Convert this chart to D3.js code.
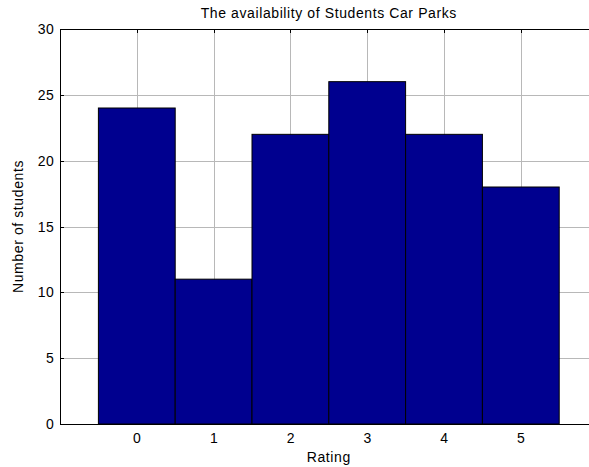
<!DOCTYPE html>
<html>
<head>
<meta charset="utf-8">
<script src="https://cdn.jsdelivr.net/npm/d3@7"></script>
<style>
  body { margin: 0; background: #fff; }
  text { font-family: Arial, "Liberation Sans", sans-serif; fill: #000; font-size: 14px; letter-spacing: 0.6px; }
</style>
</head>
<body>
<div id="chart"></div>
<script>
const ratings = [0, 1, 2, 3, 4, 5];
const counts = [24, 11, 22, 26, 22, 18];
const yTicks = [0, 5, 10, 15, 20, 25, 30];

const width = 589, height = 467;
const plotLeft = 60, plotTop = 29, plotBottom = 424;

const svg = d3.select("#chart").append("svg")
    .attr("width", width)
    .attr("height", height);

const x = d3.scaleLinear().domain([-1, 6]).range([plotLeft, plotLeft + 7 * 76.8]);
const y = d3.scaleLinear().domain([0, 30]).range([plotBottom, plotTop]);

// grid
svg.append("g").selectAll("line")
    .data(ratings)
    .enter().append("line")
    .attr("x1", d => Math.round(x(d)) + 0.5).attr("x2", d => Math.round(x(d)) + 0.5)
    .attr("y1", plotTop).attr("y2", plotBottom)
    .style("stroke", "#b8b8b8").style("stroke-width", 1);

svg.append("g").selectAll("line")
    .data(yTicks.filter(d => d > 0 && d < 30))
    .enter().append("line")
    .attr("x1", plotLeft).attr("x2", width)
    .attr("y1", d => Math.round(y(d)) + 0.5).attr("y2", d => Math.round(y(d)) + 0.5)
    .style("stroke", "#b8b8b8").style("stroke-width", 1);

// bars
svg.append("g").selectAll("rect")
    .data(counts)
    .enter().append("rect")
    .attr("x", (d, i) => x(ratings[i] - 0.5))
    .attr("width", x(0.5) - x(-0.5))
    .attr("y", d => y(d))
    .attr("height", d => plotBottom - y(d))
    .style("fill", "#00008f")
    .style("stroke", "#000")
    .style("stroke-width", 1);

// top tick marks
svg.append("g").selectAll("line")
    .data(ratings)
    .enter().append("line")
    .attr("x1", d => Math.round(x(d)) + 0.5).attr("x2", d => Math.round(x(d)) + 0.5)
    .attr("y1", plotTop).attr("y2", plotTop + 4)
    .style("stroke", "#000");

// y tick marks
svg.append("g").selectAll("line")
    .data(yTicks)
    .enter().append("line")
    .attr("x1", plotLeft).attr("x2", plotLeft + 4)
    .attr("y1", d => Math.round(y(d)) + 0.5).attr("y2", d => Math.round(y(d)) + 0.5)
    .style("stroke", "#000");

// axes box
svg.append("line")
    .attr("x1", plotLeft + 0.5).attr("x2", plotLeft + 0.5)
    .attr("y1", plotTop).attr("y2", plotBottom + 0.5)
    .style("stroke", "#000");
svg.append("line")
    .attr("x1", plotLeft).attr("x2", width)
    .attr("y1", plotTop + 0.5).attr("y2", plotTop + 0.5)
    .style("stroke", "#000");
svg.append("line")
    .attr("x1", plotLeft).attr("x2", width)
    .attr("y1", plotBottom + 0.5).attr("y2", plotBottom + 0.5)
    .style("stroke", "#000");

// tick labels
svg.append("g").selectAll("text")
    .data(yTicks)
    .enter().append("text")
    .attr("x", 54.5)
    .attr("y", d => y(d) + 5)
    .attr("text-anchor", "end")
    .text(d => d);

svg.append("g").selectAll("text")
    .data(ratings)
    .enter().append("text")
    .attr("x", d => x(d) + 0.5)
    .attr("y", 443)
    .attr("text-anchor", "middle")
    .text(d => d);

const cx = (x.range()[0] + x.range()[1]) / 2;

svg.append("text")
    .attr("x", cx).attr("y", 18)
    .attr("text-anchor", "middle")
    .text("The availability of Students Car Parks");

svg.append("text")
    .attr("x", cx).attr("y", 462)
    .attr("text-anchor", "middle")
    .text("Rating");

svg.append("text")
    .attr("transform", "translate(23," + ((plotTop + plotBottom) / 2) + ") rotate(-90)")
    .attr("text-anchor", "middle")
    .text("Number of students");
</script>
</body>
</html>
